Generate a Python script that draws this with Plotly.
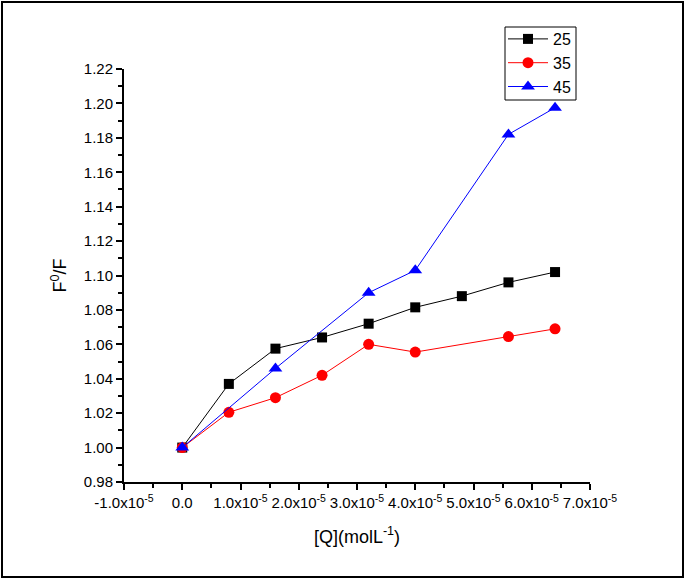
import plotly.graph_objects as go

# Data
x25 = [0.0, 0.8e-5, 1.6e-5, 2.4e-5, 3.2e-5, 4.0e-5, 4.8e-5, 5.6e-5, 6.4e-5]
y25 = [1.000, 1.037, 1.0575, 1.064, 1.072, 1.0815, 1.088, 1.096, 1.102]
x35 = [0.0, 0.8e-5, 1.6e-5, 2.4e-5, 3.2e-5, 4.0e-5, 5.6e-5, 6.4e-5]
y35 = [1.000, 1.0205, 1.029, 1.042, 1.060, 1.0555, 1.0645, 1.069]
x45 = [0.0, 1.6e-5, 3.2e-5, 4.0e-5, 5.6e-5, 6.4e-5]
y45 = [1.000, 1.046, 1.090, 1.103, 1.182, 1.1975]

xtick_vals = [-1e-5, 0, 1e-5, 2e-5, 3e-5, 4e-5, 5e-5, 6e-5, 7e-5]
xtick_text = ["-1.0x10<sup>-5</sup>", "0.0", "1.0x10<sup>-5</sup>", "2.0x10<sup>-5</sup>",
              "3.0x10<sup>-5</sup>", "4.0x10<sup>-5</sup>", "5.0x10<sup>-5</sup>",
              "6.0x10<sup>-5</sup>", "7.0x10<sup>-5</sup>"]

W, H = 685, 580
L, R, T, B = 124, 95, 69, 98
pw, ph = W - L - R, H - T - B

def px2paper_x(px):
    return (px - L) / pw

def px2paper_y(py):
    return (H - B - py) / ph

fig = go.Figure()
fig.add_trace(go.Scatter(x=x25, y=y25, name="25", mode="lines+markers",
                         line=dict(color="black", width=1),
                         marker=dict(symbol="square", size=10, color="black")))
fig.add_trace(go.Scatter(x=x35, y=y35, name="35", mode="lines+markers",
                         line=dict(color="red", width=1),
                         marker=dict(symbol="circle", size=11, color="red")))
fig.add_trace(go.Scatter(x=x45, y=y45, name="45", mode="lines+markers",
                         line=dict(color="blue", width=1),
                         marker=dict(symbol="triangle-up", size=12, color="blue")))

font_family = "Liberation Sans, Arial, sans-serif"

fig.update_layout(
    width=W, height=H,
    margin=dict(l=L, r=R, t=T, b=B),
    paper_bgcolor="white", plot_bgcolor="white",
    font=dict(family=font_family, color="black", size=15),
    showlegend=True,
    legend=dict(x=px2paper_x(503), y=px2paper_y(22), xanchor="left", yanchor="top",
                borderwidth=0, bgcolor="rgba(0,0,0,0)",
                font=dict(size=16), tracegroupgap=0, itemwidth=40),
    xaxis=dict(range=[-1e-5, 7e-5], tickmode="array", tickvals=xtick_vals, ticktext=xtick_text,
               showgrid=False, zeroline=False, showline=True, linecolor="black", linewidth=2,
               ticks="outside", ticklen=6, tickwidth=2, tickcolor="black",
               tickfont=dict(size=15),
               minor=dict(ticks="outside", ticklen=4, tickwidth=2, tickcolor="black",
                          dtick=0.5e-5, tick0=0, showgrid=False),
               title=dict(text="[Q](molL<sup>-1</sup>)", font=dict(size=18), standoff=20)),
    yaxis=dict(range=[0.98, 1.22], tickmode="linear", tick0=0.98, dtick=0.02,
               tickformat=".2f",
               showgrid=False, zeroline=False, showline=True, linecolor="black", linewidth=2,
               ticks="outside", ticklen=6, tickwidth=2, tickcolor="black",
               tickfont=dict(size=15),
               minor=dict(ticks="outside", ticklen=4, tickwidth=2, tickcolor="black",
                          dtick=0.01, showgrid=False),
               title=dict(text="F<sup>0</sup>/F", font=dict(size=18), standoff=12)),
    shapes=[
        dict(type="rect", xref="paper", yref="paper",
             x0=px2paper_x(2), x1=px2paper_x(683), y0=px2paper_y(577), y1=px2paper_y(2),
             line=dict(color="black", width=2), fillcolor="rgba(0,0,0,0)", layer="above"),
        dict(type="rect", xref="paper", yref="paper",
             x0=px2paper_x(505), x1=px2paper_x(576), y0=px2paper_y(100), y1=px2paper_y(27),
             line=dict(color="black", width=1), fillcolor="white", layer="below"),
    ],
)

fig.write_html("out.html")
